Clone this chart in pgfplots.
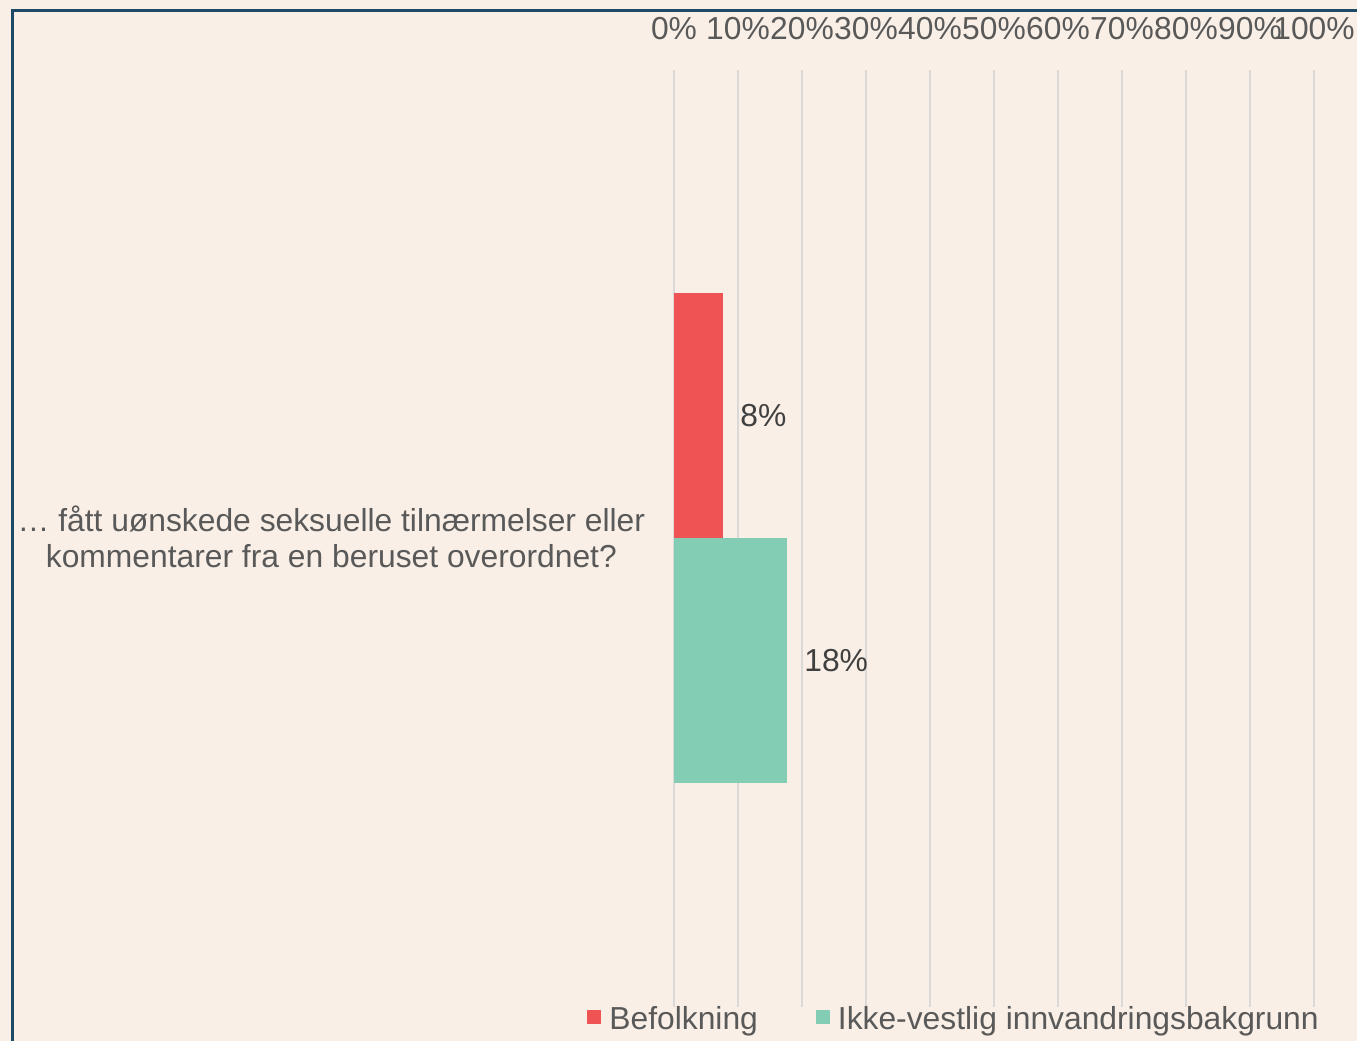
\documentclass[border=0pt]{standalone}
\usepackage{pgfplots}
\pgfplotsset{compat=1.18}
\usepackage{fontspec}
\setmainfont{Liberation Sans}

\definecolor{bg}{HTML}{F9EFE6}
\definecolor{frame}{HTML}{1F4A66}
\definecolor{gridgray}{HTML}{D9D9D9}
\definecolor{textgray}{HTML}{595959}
\definecolor{labelgray}{HTML}{404040}
\definecolor{befred}{HTML}{F05353}
\definecolor{ikkegreen}{HTML}{83CDB5}

\begin{document}
\begin{tikzpicture}[font=\fontsize{15.9}{18}\selectfont]
% background and frame (1px = 0.5pt)
\fill[bg] (0,0) rectangle (678.5pt,520.5pt);
\draw[frame, line width=1.5pt] (6.25pt,0pt) -- (6.25pt,515.25pt) -- (678.5pt,515.25pt);

\begin{axis}[
  at={(337pt,17pt)}, anchor=south west,
  scale only axis, width=320pt, height=468.5pt,
  xbar, clip=false,
  xmin=0, xmax=100, ymin=-0.5, ymax=0.5,
  xtick={0,10,...,100},
  xticklabel pos=upper,
  xticklabel={\pgfmathprintnumber{\tick}\%},
  /pgf/number format/assume math mode=true,
  xticklabel style={anchor=base, inner sep=0pt, yshift=15pt, text=textgray},
  ytick={0},
  yticklabels={{… fått uønskede seksuelle tilnærmelser eller\\kommentarer fra en beruset overordnet?}},
  yticklabel style={align=center, inner sep=0pt, xshift=-10pt, yshift=1pt, text=textgray},
  xmajorgrids,
  major grid style={draw=gridgray, line width=0.75pt},
  axis line style={draw=none},
  tick style={draw=none},
  bar width=122.5pt,
  point meta=x,
  nodes near coords={\pgfmathprintnumber[fixed,precision=0]{\pgfplotspointmeta}\%},
  nodes near coords style={text=labelgray, anchor=west, xshift=5pt},
  legend columns=2,
  legend style={at={(-0.1359,-0.0135)}, anchor=west, draw=none, fill=none,
    inner sep=0pt, nodes={inner sep=0pt}, text=textgray,
    /tikz/every odd column/.append style={column sep=4pt},
    /tikz/every even column/.append style={column sep=29pt}},
  legend image code/.code={\fill[#1] (0pt,-2pt) rectangle (7pt,5pt);},
]
\addplot[fill=befred, draw=none, bar shift=61.25pt] coordinates {(7.7,0)};
\addplot[fill=ikkegreen, draw=none, bar shift=-61.25pt] coordinates {(17.7,0)};
\legend{Befolkning, Ikke-vestlig innvandringsbakgrunn}
\end{axis}
\pgfresetboundingbox
\useasboundingbox (0,0) rectangle (678.5pt,520.5pt);
\end{tikzpicture}
\end{document}
